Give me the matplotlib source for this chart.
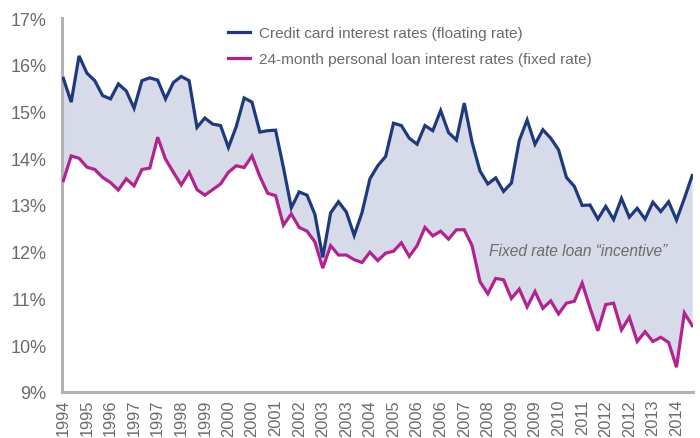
import matplotlib
matplotlib.use("Agg")
import matplotlib.pyplot as plt
import numpy as np

credit_card = [15.71, 15.20, 16.19, 15.82, 15.66, 15.34, 15.27, 15.59, 15.44, 15.07,
               15.66, 15.72, 15.67, 15.27, 15.62, 15.75, 15.66, 14.66, 14.86, 14.73,
               14.70, 14.23, 14.68, 15.29, 15.20, 14.56, 14.59, 14.60, 13.80, 12.94,
               13.28, 13.21, 12.80, 11.88, 12.83, 13.07, 12.85, 12.35, 12.84, 13.56,
               13.84, 14.04, 14.75, 14.70, 14.43, 14.30, 14.70, 14.59, 15.02, 14.55,
               14.39, 15.18, 14.34, 13.73, 13.45, 13.58, 13.29, 13.47, 14.38, 14.82,
               14.30, 14.61, 14.43, 14.18, 13.59, 13.40, 12.99, 13.00, 12.70, 12.97,
               12.69, 13.14, 12.74, 12.93, 12.70, 13.06, 12.86, 13.07, 12.68, 13.14,
               13.63]
personal_loan = [13.52, 14.05, 14.00, 13.81, 13.76, 13.59, 13.48, 13.32, 13.56, 13.41,
                 13.76, 13.79, 14.45, 13.98, 13.70, 13.43, 13.70, 13.33, 13.21, 13.33,
                 13.45, 13.70, 13.84, 13.80, 14.05, 13.61, 13.25, 13.20, 12.57, 12.81,
                 12.52, 12.44, 12.21, 11.65, 12.13, 11.93, 11.93, 11.83, 11.77, 11.99,
                 11.81, 11.97, 12.01, 12.19, 11.90, 12.13, 12.52, 12.34, 12.44, 12.27,
                 12.47, 12.47, 12.13, 11.36, 11.10, 11.43, 11.40, 11.00, 11.20, 10.82,
                 11.15, 10.79, 10.95, 10.67, 10.90, 10.94, 11.33, 10.80, 10.31, 10.87,
                 10.90, 10.33, 10.60, 10.08, 10.29, 10.08, 10.17, 10.06, 9.53, 10.69,
                 10.42]
x_tick_labels = ["1994", "1995", "1996", "1997", "1997", "1998", "1999", "2000", "2000",
                 "2001", "2002", "2003", "2003", "2004", "2005", "2006", "2006", "2007",
                 "2008", "2009", "2009", "2010", "2011", "2012", "2012", "2013", "2014"]
y_ticks = [9, 10, 11, 12, 13, 14, 15, 16, 17]
series_labels = ["Credit card interest rates (floating rate)",
                 "24-month personal loan interest rates (fixed rate)"]
annotation = "Fixed rate loan \u201cincentive\u201d"

plt.rcParams['font.family'] = ['Liberation Sans', 'DejaVu Sans']

TXT = "#6b6b6b"
BLUE = "#1f3a7c"
MAG = "#b2238f"
FILL = "#d7dbe9"
SPINE = "#b3b3b5"

fig = plt.figure(figsize=(7.0, 4.39), dpi=100)
ax = fig.add_axes([62/700, 1-393/439, (693-62)/700, (393-19)/439])

x = np.arange(len(credit_card))
ax.fill_between(x, personal_loan, credit_card, color=FILL, lw=0, zorder=1)
ax.plot(x, credit_card, color=BLUE, lw=2.3, label=series_labels[0], zorder=3,
        solid_joinstyle='miter')
ax.plot(x, personal_loan, color=MAG, lw=2.3, label=series_labels[1], zorder=3,
        solid_joinstyle='miter')

ax.set_xlim(-0.17, 80.1)
ax.set_ylim(9, 17)
ax.set_yticks(y_ticks)
ax.set_yticklabels([f"{v}%" for v in y_ticks])
ax.set_xticks(np.arange(0, 3*len(x_tick_labels), 3))
ax.set_xticklabels(x_tick_labels, rotation=90)
ax.tick_params(axis='both', length=0, colors=TXT)
ax.tick_params(axis='y', pad=11, labelsize=13)
ax.tick_params(axis='x', pad=5, labelsize=11.8)

for s in ['top', 'right']:
    ax.spines[s].set_visible(False)
for s in ['left', 'bottom']:
    ax.spines[s].set_color(SPINE)
    ax.spines[s].set_linewidth(2.2)

leg = ax.legend(loc='upper left', bbox_to_anchor=(228/700, 1-27/439),
                bbox_transform=fig.transFigure, frameon=False, fontsize=11.1,
                handlelength=1.45, handletextpad=0.55, labelspacing=0.8,
                borderaxespad=0, borderpad=0)
for t in leg.get_texts():
    t.set_color(TXT)

ax.text(0.818, 0.378, annotation, transform=ax.transAxes, ha='center', va='center',
        fontsize=11.2, style='italic', color=TXT)

fig.savefig("out.png", dpi=100)
